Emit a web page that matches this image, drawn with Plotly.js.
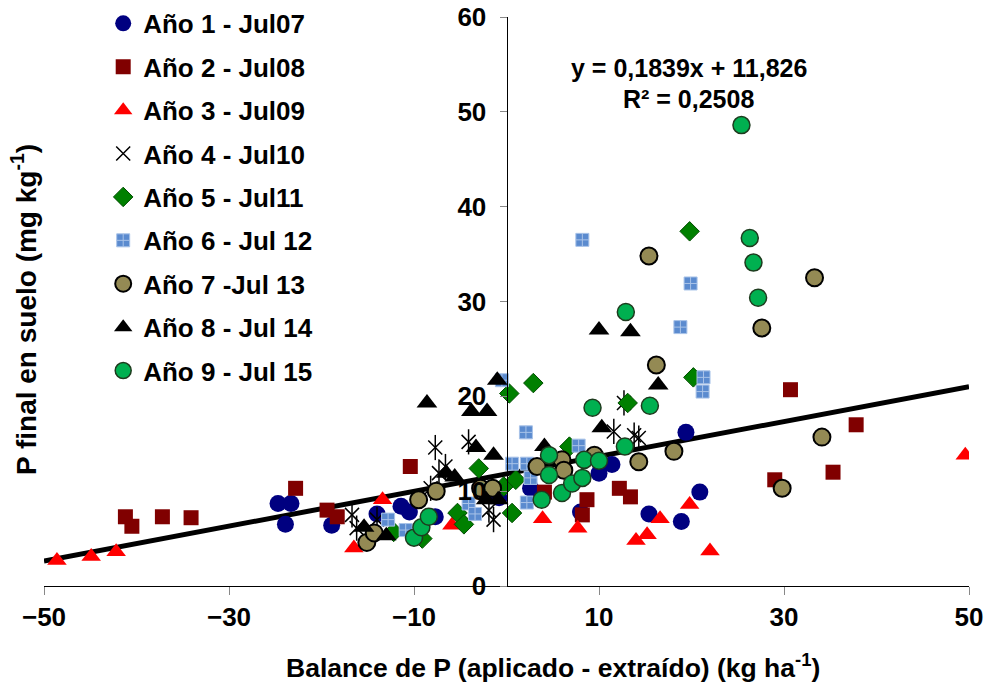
<!DOCTYPE html>
<html><head><meta charset="utf-8">
<script src="https://cdn.plot.ly/plotly-3.0.1.min.js"></script>
<style>body{margin:0;padding:0;background:#fff}#chart{width:988px;height:686px}</style>
</head><body><div id="chart"></div>
<script>
const seriesNames = ["Año 1 - Jul07","Año 2 - Jul08","Año 3 - Jul09","Año 4 - Jul10","Año 5 - Jul11","Año 6 - Jul 12","Año 7 -Jul 13","Año 8 - Jul 14","Año 9 - Jul 15"];
const x1 = [-24.7,-23.3,-23.9,-18.9,-14.0,-11.4,-10.5,-7.7,-0.8,2.6,8.0,10.0,11.4,15.4,19.4,20.9,18.9];
const y1 = [8.7,8.7,6.5,6.4,7.6,8.4,7.8,7.3,9.3,10.3,7.8,11.9,12.8,7.6,16.2,9.9,6.8];
const x2 = [-41.2,-40.5,-37.2,-34.1,-22.8,-19.4,-18.3,-10.4,4.1,8.7,8.2,12.2,13.4,29.0,30.7,35.3,37.8];
const y2 = [7.3,6.3,7.3,7.2,10.3,8.0,7.3,12.6,9.9,9.1,7.5,10.3,9.4,11.2,20.7,12.0,17.0];
const x3 = [-48.6,-44.9,-42.2,-16.5,-13.4,-5.9,3.9,7.7,14.0,15.2,16.6,19.8,22.0,49.6];
const y3 = [2.7,3.1,3.6,4.0,9.1,6.4,7.1,6.1,4.8,5.4,7.1,8.6,3.7,13.8];
const x4 = [-16.7,-16.2,-14.0,-8.2,-7.7,-7.3,-6.6,-4.1,-1.9,-1.4,11.6,12.7,13.8,14.3];
const y4 = [7.5,6.1,7.0,10.3,14.6,11.9,12.6,15.2,8.0,7.0,16.3,19.3,15.9,15.6];
const x5 = [-12.2,-9.1,-5.3,-4.6,-3.0,-0.3,0.3,0.6,1.0,2.9,6.8,13.1,19.8,20.2];
const y5 = [5.7,5.0,7.7,6.5,12.4,10.5,20.3,7.7,11.2,21.4,14.7,19.3,37.4,22.0];
const x6 = [-12.8,-10.9,-4.1,-3.4,-0.5,0.6,2.1,2.2,2.2,2.6,7.8,8.2,18.8,19.9,21.2,21.3];
const y6 = [7.0,5.9,8.7,7.6,21.7,12.9,16.2,12.9,8.8,11.4,14.8,36.5,27.3,31.9,20.5,22.0];
const x7 = [-15.1,-14.3,-9.5,-7.6,-2.8,-1.5,3.3,6.0,6.2,9.5,14.3,15.4,16.2,18.1,27.6,29.8,33.3,34.1];
const y7 = [4.6,5.6,9.1,10.0,10.3,10.3,12.6,13.3,12.2,13.8,13.1,34.8,23.3,14.2,27.2,10.3,32.5,15.7];
const x8 = [-15.4,-13.0,-8.6,-6.5,-5.6,-3.8,-3.3,-2.2,-2.1,-1.4,-1.0,-0.9,4.1,10.0,10.3,13.4,16.4];
const y8 = [6.2,5.3,19.3,11.9,11.5,18.4,14.6,9.1,18.4,13.8,21.7,9.1,14.7,27.0,16.7,26.8,21.2];
const x9 = [-10.0,-9.2,-8.4,3.8,4.6,4.6,6.0,7.1,8.2,8.4,9.3,10.0,12.8,12.9,15.5,25.4,26.3,26.7,27.2];
const y9 = [5.1,6.2,7.3,9.1,11.7,13.8,9.8,10.8,11.4,13.3,18.8,13.2,14.7,28.9,19.0,48.6,36.7,34.1,30.4];
const slope = 0.1839, intercept = 11.826;
const xRange = [-50, 50];
const xTicks = [-50,-30,-10,10,30,50];
const eqText = "y = 0,1839x + 11,826";
const r2Text = "R² = 0,2508";

const F = "Liberation Sans, Arial, sans-serif";
const fontB = (s) => ({family: F, size: s, color: '#000', weight: 'bold'});

const traces = [];
traces.push({x: xRange, y: xRange.map(v => slope*v + intercept), mode: 'lines', line: {color: '#000', width: 5}, showlegend: false, hoverinfo: 'skip'});
function sc(x, y, name, marker, grp, show=true) {
  return {x, y, name, type: 'scatter', mode: 'markers', marker, legendgroup: grp, showlegend: show};
}
traces.push(sc(x1, y1, seriesNames[0], {symbol: 'circle', size: 17, color: '#000080', line: {width: 0}}, 'g1'));
traces.push(sc(x2, y2, seriesNames[1], {symbol: 'square', size: 15, color: '#800000', line: {width: 0}}, 'g2'));
traces.push(sc(x3, y3, seriesNames[2], {symbol: 'triangle-up', size: 17, color: '#FF0000', line: {width: 0}}, 'g3'));
traces.push(sc(x4, y4, seriesNames[3], {symbol: 'x-thin-open', size: 14, color: '#000', line: {width: 1.5, color: '#000'}}, 'g4'));
traces.push(sc(x4, y4, seriesNames[3], {symbol: 'line-ns-open', size: 18, color: '#000', line: {width: 1.5, color: '#000'}}, 'g4', false));
traces.push(sc(x5, y5, seriesNames[4], {symbol: 'diamond', size: 15, color: '#008000', line: {width: 1, color: '#004d00'}}, 'g5'));
traces.push(sc(x6, y6, seriesNames[5], {symbol: 'square-cross', size: 13, color: '#5B8BCF', line: {width: 1, color: '#A9C3E8'}}, 'g6'));
traces.push(sc(x7, y7, seriesNames[6], {symbol: 'circle', size: 17, color: '#948A54', line: {width: 2, color: '#000'}}, 'g7'));
traces.push(sc(x8, y8, seriesNames[7], {symbol: 'triangle-up', size: 18, color: '#000', line: {width: 0}}, 'g8'));
traces.push(sc(x9, y9, seriesNames[8], {symbol: 'circle', size: 17, color: '#00B050', line: {width: 1.5, color: '#1E3B1E'}}, 'g9'));

const layout = {
  width: 988, height: 686,
  margin: {l: 44, r: 19, t: 17, b: 100, autoexpand: false},
  paper_bgcolor: '#fff', plot_bgcolor: 'rgba(0,0,0,0)',
  showlegend: true,
  legend: {x: 0.064, y: 1.03, xanchor: 'left', yanchor: 'top', bgcolor: 'rgba(0,0,0,0)', font: fontB(26), traceorder: 'grouped', tracegroupgap: 6.6, itemsizing: 'trace', maxheight: 680},
  xaxis: {range: xRange, tickvals: xTicks, showline: true, linecolor: '#000', linewidth: 1, ticks: 'outside', ticklen: 8, tickcolor: '#888', tickfont: fontB(26), showgrid: false, zeroline: false},
  yaxis: {range: [0, 60], dtick: 10, anchor: 'free', position: 0.5, showline: true, linecolor: '#000', linewidth: 1, ticks: 'outside', ticklen: 7, tickcolor: '#888', tickfont: fontB(26), ticklabelstandoff: 8, showgrid: false, zeroline: false},
  annotations: [
    {text: eqText, x: 19.7, y: 54.6, xref: 'x', yref: 'y', xanchor: 'center', yanchor: 'middle', showarrow: false, font: fontB(25)},
    {text: r2Text, x: 19.7, y: 51.4, xref: 'x', yref: 'y', xanchor: 'center', yanchor: 'middle', showarrow: false, font: fontB(25)},
    {text: 'Balance de P (aplicado - extraído) (kg ha<sup>-1</sup>)', xref: 'paper', yref: 'paper', x: (553-44)/925, y: (586-666)/569, xanchor: 'center', yanchor: 'middle', showarrow: false, font: fontB(26.5)},
    {text: 'P final en suelo (mg kg<sup>-1</sup>)', xref: 'paper', yref: 'paper', x: (24-44)/925, y: (586-310)/569, xanchor: 'center', yanchor: 'middle', textangle: -90, showarrow: false, font: fontB(28)}
  ]
};
Plotly.newPlot('chart', traces, layout, {displayModeBar: false, staticPlot: true});
</script></body></html>
